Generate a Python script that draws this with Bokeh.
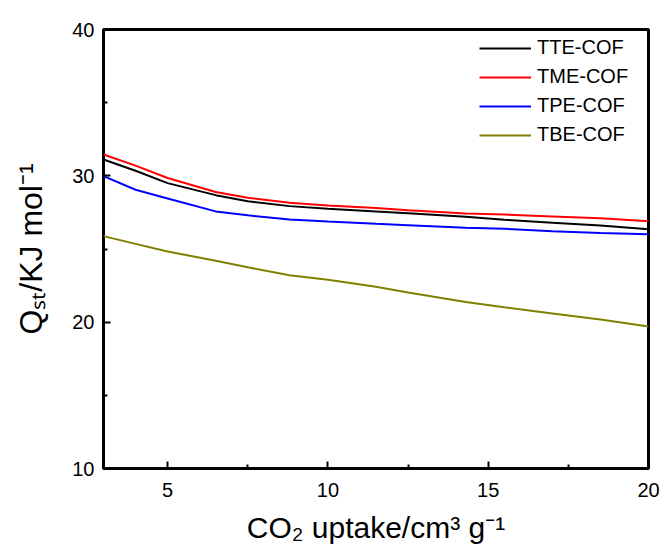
from bokeh.plotting import figure
from bokeh.models import FixedTicker, Range1d
from bokeh.embed import file_html
from bokeh.resources import INLINE

# ---------------- data ----------------
uptake = [3, 4, 5, 6.5, 7.5, 8.8, 10, 11.5, 12.5, 14.3, 15.5, 17, 18.5, 20]
tte_cof = [31.12, 30.35, 29.5, 28.68, 28.27, 27.93, 27.75, 27.57, 27.45, 27.2, 27.0, 26.8, 26.6, 26.35]
tme_cof = [31.46, 30.7, 29.85, 28.9, 28.5, 28.16, 27.98, 27.8, 27.65, 27.42, 27.35, 27.22, 27.1, 26.9]
tpe_cof = [29.98, 29.05, 28.45, 27.57, 27.3, 27.02, 26.88, 26.72, 26.62, 26.45, 26.38, 26.22, 26.1, 26.0]
tbe_cof = [25.88, 25.35, 24.83, 24.2, 23.75, 23.2, 22.9, 22.42, 22.03, 21.38, 21.02, 20.6, 20.18, 19.7]
series_names = ["TTE-COF", "TME-COF", "TPE-COF", "TBE-COF"]
series_colors = ["#000000", "#FF0000", "#0000FF", "#808000"]

x_ticks = [5, 10, 15, 20]
x_minor = [7.5, 12.5, 17.5]
y_ticks = [10, 20, 30, 40]
y_minor = [15, 25, 35]
x_start, x_end = 3, 20
y_start, y_end = 10, 40
x_title = "CO\u2082 uptake/cm\u00b3 g\u207b\u00b9"
y_title = "Q\u209b\u209c/KJ mol\u207b\u00b9"

FONT = "Liberation Sans"

# ---------------- layout ----------------
W, H = 665, 558
ML, MR, MT, MB = 103, 17, 29, 90

p = figure(width=W, height=H, output_backend="svg", toolbar_location=None,
           x_range=Range1d(x_start, x_end), y_range=Range1d(y_start, y_end),
           min_border_left=ML, min_border_right=MR, min_border_top=MT,
           min_border_bottom=MB)
p.background_fill_color = "white"
p.border_fill_color = "white"
p.outline_line_color = "black"
p.outline_line_width = 3
p.xgrid.visible = False
p.ygrid.visible = False

p.xaxis.ticker = FixedTicker(ticks=x_ticks, minor_ticks=x_minor)
p.yaxis.ticker = FixedTicker(ticks=y_ticks, minor_ticks=y_minor)
p.xaxis.axis_label = x_title
p.yaxis.axis_label = y_title
for ax, standoff, lab_standoff, lab_size in ((p.xaxis, 14, 11, "30px"), (p.yaxis, 9, 20, "32px")):
    ax.axis_line_color = None
    ax.major_tick_in = 7
    ax.major_tick_out = 0
    ax.minor_tick_in = 4
    ax.minor_tick_out = 0
    ax.major_tick_line_width = 2
    ax.minor_tick_line_width = 2
    ax.major_tick_line_color = "black"
    ax.minor_tick_line_color = "black"
    ax.major_label_text_font = FONT
    ax.major_label_text_font_size = "20px"
    ax.major_label_text_color = "black"
    ax.major_label_standoff = standoff
    ax.axis_label_text_font = FONT
    ax.axis_label_text_font_size = lab_size
    ax.axis_label_text_font_style = "normal"
    ax.axis_label_text_color = "black"
    ax.axis_label_standoff = lab_standoff

for name, col, ys in zip(series_names, series_colors, [tte_cof, tme_cof, tpe_cof, tbe_cof]):
    p.line(uptake, ys, line_color=col, line_width=2, legend_label=name)

lg = p.legend[0]
lg.location = (371, 317)
lg.padding = 5
lg.margin = 0
lg.spacing = 6
lg.glyph_width = 52
lg.glyph_height = 20
lg.label_height = 20
lg.label_standoff = 6
lg.label_text_font = FONT
lg.label_text_font_size = "20px"
lg.label_text_color = "black"
lg.background_fill_alpha = 0
lg.border_line_alpha = 0

open("out.html", "w").write(file_html(p, INLINE))
